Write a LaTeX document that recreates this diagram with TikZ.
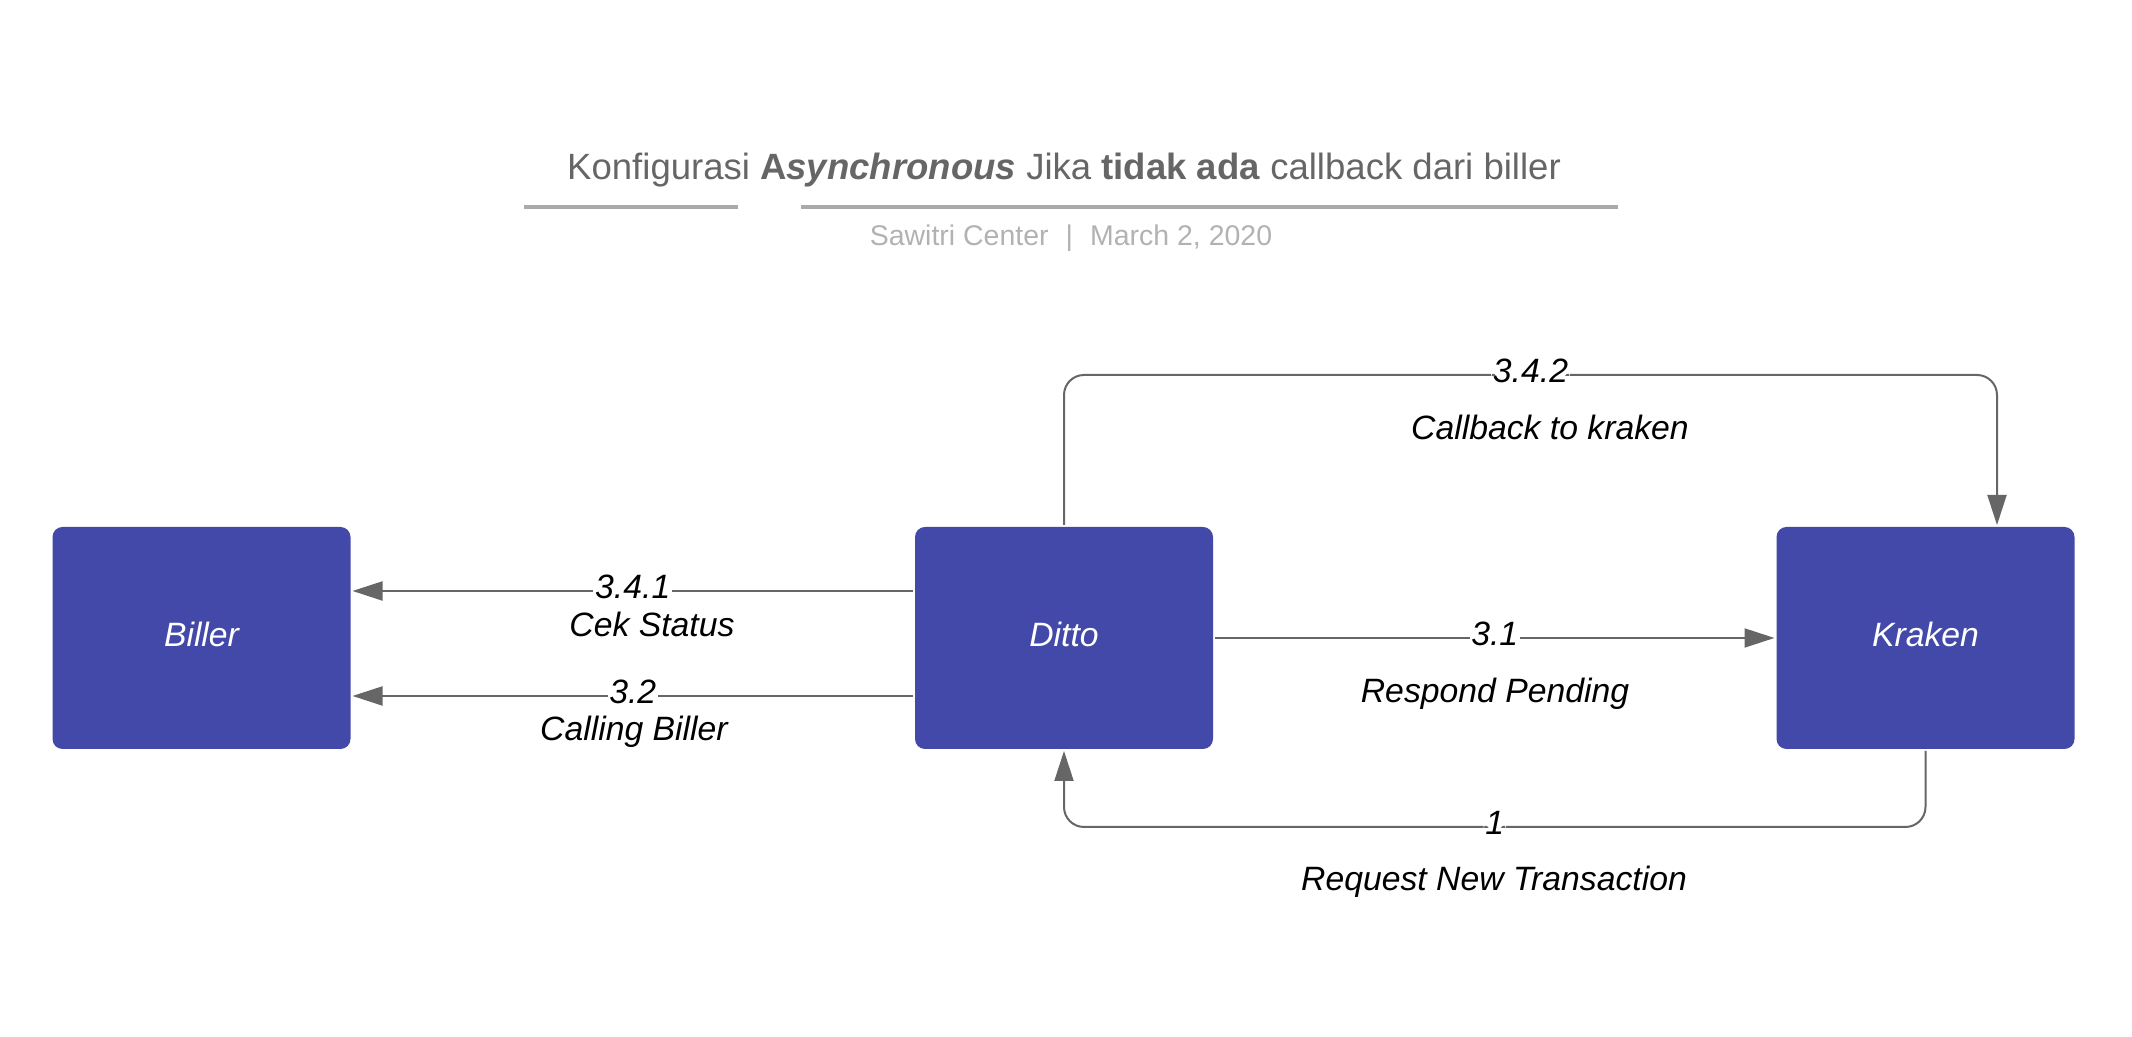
\documentclass[tikz,border=0pt]{standalone}
\usepackage{fontspec}
\setmainfont{Liberation Sans}
\usetikzlibrary{arrows.meta}
\definecolor{boxblue}{RGB}{67,73,168}
\definecolor{linegray}{RGB}{102,102,102}
\definecolor{titlegray}{RGB}{102,102,102}
\definecolor{subgray}{RGB}{178,178,178}
\definecolor{rulegray}{RGB}{170,170,170}
\tikzset{
    box/.style={rectangle, rounded corners=0.1cm, fill=boxblue,
    	minimum width=2.98cm, minimum height=2.22cm, text=white, text depth=0.08cm,
    	font=\fontsize{9.6}{11}\selectfont\itshape, outer sep=0.02cm},
    flow/.style={draw=linegray, line width=0.02cm,
    	-{Triangle[length=0.3cm, width=0.19cm]}},
    num/.style={fill=white, inner xsep=0.5pt, inner ysep=0pt, yshift=0.04cm,
    	font=\fontsize{9.6}{11}\selectfont\itshape},
    desc/.style={font=\fontsize{9.6}{11}\selectfont\itshape}
}

\begin{document}
\begin{tikzpicture}
  \useasboundingbox (0cm, 0cm) rectangle (21.32cm, 10.37cm);
  \node (title) [text=titlegray, font=\fontsize{10.4}{12}\selectfont] at (10.64cm, 8.67cm)
    {Konfigurasi \textbf{A\textit{synchronous}} Jika \textbf{tidak ada} callback dari biller};
  \node (sub) [text=subgray, font=\fontsize{8.1}{10}\selectfont] at (10.71cm, 7.99cm)
    {Sawitri Center\hspace{0.6em}|\hspace{0.6em}March 2, 2020};
  \draw [rulegray, line width=0.04cm] (5.24cm, 8.30cm) -- (7.38cm, 8.30cm);
  \draw [rulegray, line width=0.04cm] (8.01cm, 8.30cm) -- (16.18cm, 8.30cm);

  \node (biller) [box] at (2.015cm, 3.99cm) {Biller};
  \node (ditto) [box] at (10.64cm, 3.99cm) {Ditto};
  \node (kraken) [box] at (19.255cm, 3.99cm) {Kraken};

  \draw [flow] ([yshift=0.47cm]ditto.west) -- ([yshift=0.47cm]biller.east)
    node [num, midway] (n341) {3.4.1};
  \draw [flow] ([yshift=-0.58cm]ditto.west) -- ([yshift=-0.58cm]biller.east)
    node [num, midway] (n32) {3.2};
  \draw [flow] (ditto) -- (kraken) node [num, midway] (n31) {3.1};
  \draw [flow, rounded corners=0.2cm] (ditto.north) -- ++(0cm, 1.5cm)
    -| ([xshift=0.715cm]kraken.north) node [num, pos=0.25] (n342) {3.4.2};
  \draw [flow, rounded corners=0.2cm] (kraken.south) -- ++(0cm, -0.76cm)
    -| (ditto.south) node [num, pos=0.25] (n1) {1};

  \node (cek) [desc] at (6.52cm, 4.13cm) {Cek Status};
  \node (calling) [desc] at (6.34cm, 3.05cm) {Calling Biller};
  \node (pending) [desc] at (14.95cm, 3.43cm) {Respond Pending};
  \node (callback) [desc] at (15.50cm, 6.10cm) {Callback to kraken};
  \node (request) [desc] at (14.94cm, 1.55cm) {Request New Transaction};
\end{tikzpicture}
\end{document}
